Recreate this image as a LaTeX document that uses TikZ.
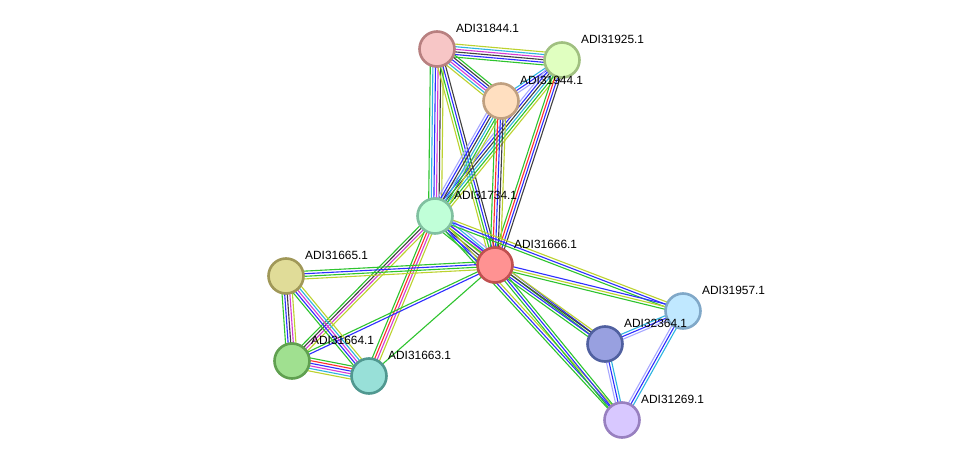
\documentclass[tikz,border=0pt]{standalone}
\usepackage{fontspec}
\setmainfont{Liberation Sans}
\usetikzlibrary{calc,backgrounds}
\pgfdeclarelayer{paper}
\pgfsetlayers{paper,background,main}
\definecolor{gr}{HTML}{2EC42E}
\definecolor{bl}{HTML}{2E2EFF}
\definecolor{bk}{HTML}{404040}
\definecolor{mg}{HTML}{D43CD4}
\definecolor{cy}{HTML}{2EB4E0}
\definecolor{yl}{HTML}{BCD22E}
\definecolor{rd}{HTML}{FF2E2E}
\definecolor{lv}{HTML}{A8A8FF}
\newcommand{\bundle}[4]{%
  \foreach \cc [count=\ii] in {#4}{%
    \pgfmathsetmacro\off{(\ii-(#3+1)/2)*2.6}%
    \draw[color=\cc, line width=1.1pt] ($(#1)!\off pt!90:(#2)$) -- ($(#2)!\off pt!-90:(#1)$);
  }%
}
\begin{document}
\begin{tikzpicture}[x=1pt,y=-1pt,
  prot/.style={circle, draw, line width=2.6pt, minimum size=35pt, inner sep=0pt},
  lbl/.style={anchor=base west, inner sep=0pt, font=\fontsize{11.9}{13}\selectfont, text=black}]
\useasboundingbox (0,0) rectangle (975,466);
\begin{pgfonlayer}{paper}
\fill[white] (0,0) rectangle (975,466);
\end{pgfonlayer}
% nodes
\node[prot, fill={rgb,255:red,247;green,198;blue,198}, draw={rgb,255:red,184;green,128;blue,128}] (a44) at (437,49) {};
\node[prot, fill={rgb,255:red,224;green,255;blue,192}, draw={rgb,255:red,160;green,192;blue,128}] (a25) at (562,60) {};
\node[prot, fill={rgb,255:red,255;green,223;blue,192}, draw={rgb,255:red,192;green,160;blue,128}] (a944) at (501,101) {};
\node[prot, fill={rgb,255:red,192;green,255;blue,216}, draw={rgb,255:red,128;green,192;blue,160}] (a34) at (435,216) {};
\node[prot, fill={rgb,255:red,255;green,146;blue,146}, draw={rgb,255:red,192;green,80;blue,80}] (a66) at (495,265) {};
\node[prot, fill={rgb,255:red,224;green,220;blue,152}, draw={rgb,255:red,160;green,152;blue,88}] (a65) at (286,276) {};
\node[prot, fill={rgb,255:red,160;green,224;blue,144}, draw={rgb,255:red,96;green,160;blue,80}] (a64) at (292,361) {};
\node[prot, fill={rgb,255:red,152;green,224;blue,216}, draw={rgb,255:red,80;green,152;blue,144}] (a63) at (369,376) {};
\node[prot, fill={rgb,255:red,192;green,232;blue,255}, draw={rgb,255:red,128;green,168;blue,200}] (a57) at (683,311) {};
\node[prot, fill={rgb,255:red,152;green,160;blue,224}, draw={rgb,255:red,80;green,96;blue,160}] (a364) at (605,344) {};
\node[prot, fill={rgb,255:red,216;green,200;blue,255}, draw={rgb,255:red,152;green,128;blue,192}] (a69) at (622,420) {};
% labels
\node[lbl] (l44) at ($(a44)+(19,-17)$) {ADI31844.1};
\node[lbl] (l25) at ($(a25)+(19,-17)$) {ADI31925.1};
\node[lbl] (l944) at ($(a944)+(19,-17)$) {ADI31944.1};
\node[lbl] (l34) at ($(a34)+(19,-17)$) {ADI31734.1};
\node[lbl] (l66) at ($(a66)+(19,-17)$) {ADI31666.1};
\node[lbl] (l65) at ($(a65)+(19,-17)$) {ADI31665.1};
\node[lbl] (l64) at ($(a64)+(19,-17)$) {ADI31664.1};
\node[lbl] (l63) at ($(a63)+(19,-17)$) {ADI31663.1};
\node[lbl] (l57) at ($(a57)+(19,-17)$) {ADI31957.1};
\node[lbl] (l364) at ($(a364)+(19,-17)$) {ADI32364.1};
\node[lbl] (l69) at ($(a69)+(19,-17)$) {ADI31269.1};
% edges
\begin{scope}[on background layer]
\bundle{a44}{a25}{6}{gr,bl,bk,mg,cy,yl}
\bundle{a44}{a944}{6}{yl,cy,mg,bl,bk,gr}
\bundle{a44}{a34}{6}{gr,cy,bl,mg,bk,yl}
\bundle{a44}{a66}{4}{yl,gr,bl,bk}
\bundle{a25}{a944}{3}{cy,bl,lv}
\bundle{a25}{a34}{6}{lv,bl,bk,cy,gr,yl}
\bundle{a25}{a66}{4}{gr,rd,bl,bk}
\bundle{a944}{a34}{6}{lv,bl,bk,cy,gr,yl}
\bundle{a944}{a66}{5}{gr,rd,bl,bk,yl}
\bundle{a34}{a66}{7}{gr,bl,bk,yl,mg,cy,lv}
\bundle{a34}{a64}{4}{gr,bk,mg,yl}
\bundle{a34}{a63}{4}{gr,rd,mg,yl}
\bundle{a34}{a57}{3}{gr,bl,yl}
\bundle{a34}{a364}{2}{gr,bl}
\bundle{a34}{a69}{3}{gr,bl,yl}
\bundle{a66}{a57}{3}{gr,yl,bl}
\bundle{a66}{a364}{4}{gr,bl,bk,yl}
\bundle{a66}{a69}{3}{gr,bl,gr}
\bundle{a66}{a65}{4}{gr,bl,gr,yl}
\bundle{a66}{a64}{2}{gr,bl}
\bundle{a66}{a63}{1}{gr}
\bundle{a65}{a64}{5}{gr,bl,bk,mg,yl}
\bundle{a65}{a63}{5}{gr,bl,mg,cy,yl}
\bundle{a64}{a63}{6}{yl,cy,mg,bl,rd,gr}
\bundle{a57}{a364}{3}{cy,bl,lv}
\bundle{a57}{a69}{3}{lv,bl,cy}
\bundle{a364}{a69}{3}{lv,bl,cy}
\end{scope}
\end{tikzpicture}
\end{document}
